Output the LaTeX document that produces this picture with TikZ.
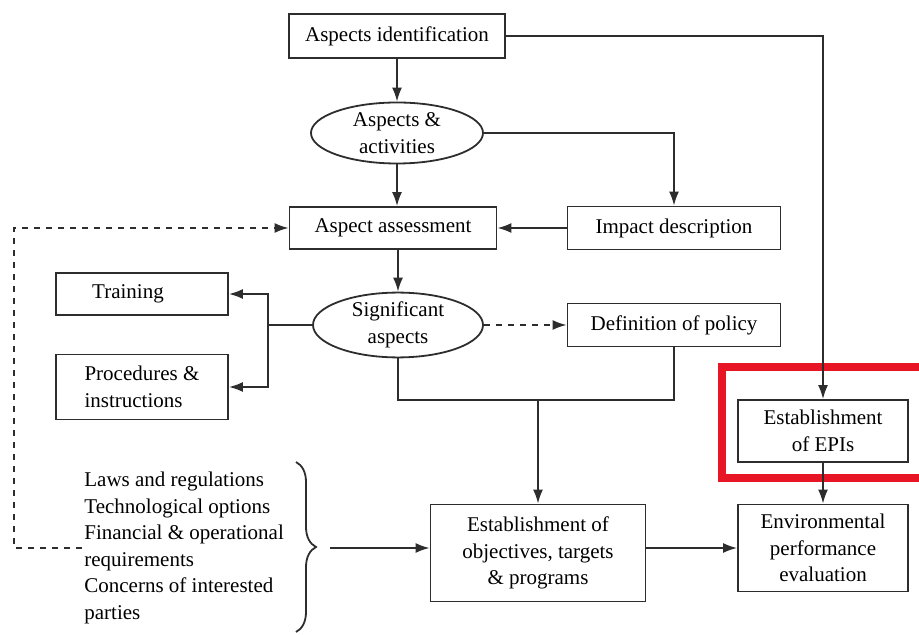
\documentclass[tikz,border=0pt]{standalone}
\usepackage{fontspec}
\setmainfont{Liberation Serif}
\newfontfamily\boxfont{Liberation Serif}
\usetikzlibrary{positioning}
\usetikzlibrary{arrows.meta}
\usetikzlibrary{shapes.geometric}
\usetikzlibrary{decorations.pathreplacing}

\definecolor{linegray}{RGB}{45,45,45}
\definecolor{markred}{RGB}{232,22,36}

\tikzset{
  every node/.style={font=\boxfont\fontsize{10.5}{13.3}\selectfont},
  box/.style={draw=linegray, line width=0.9pt, align=center, inner sep=2pt},
  oval/.style={draw=linegray, line width=0.9pt, ellipse, align=center, inner sep=0pt},
  flow/.style={draw=linegray, line width=0.9pt, -{Latex[length=7pt,width=5pt]}},
  plain/.style={draw=linegray, line width=0.9pt},
}

\begin{document}
\begin{tikzpicture}[x=0.5pt, y=-0.5pt]
  \useasboundingbox (0,0) rectangle (919,635);

  % Top of the chain
  \node[box, minimum width=108pt, minimum height=22pt] (ident) at (397,36) {Aspects identification};
  \node[oval, minimum width=86pt, minimum height=30.5pt] (activ) at (397,133) {Aspects \&\\activities};
  \node[box, minimum width=103.5pt, minimum height=21pt] (assess) at (393,228) {Aspect assessment};
  \node[box, minimum width=106.5pt, minimum height=21.5pt] (impact) at (674,228) {Impact description};
  \node[oval, minimum width=85pt, minimum height=30pt] (signif) at (398,325) {Significant\\aspects};

  % Left side
  \node[box, minimum width=86pt, minimum height=21pt] (training) at (142,294) {Training\hspace{14pt}};
  \node[box, minimum width=86pt, minimum height=32.5pt, align=left] (proced) at (142,387) {Procedures \&\\instructions\hspace{14pt}};
  \node[align=left, anchor=west, inner sep=0pt] (inputs) at (84,548)
    {Laws and regulations\\Technological options\\Financial \& operational\\requirements\\Concerns of interested\\parties};

  % Right side
  \node[box, minimum width=106.5pt, minimum height=21.5pt] (policy) at (674,325) {Definition of policy};
  \node[box, minimum width=107.5pt, minimum height=48.5pt] (objectives) at (538,553) {Establishment of\\objectives, targets\\\& programs};
  \node[box, minimum width=85pt, minimum height=31pt] (epi) at (823,431) {Establishment\\of EPIs};
  \node[box, minimum width=85pt, minimum height=43.5pt] (envperf) at (823,548) {Environmental\\performance\\evaluation};

  % Highlight
  \draw[markred, line width=4pt] (722,367) rectangle (930,478);

  % Main flow
  \draw[flow] (ident.south) -- (activ.north);
  \draw[flow] (activ.south) -- (activ.south |- assess.north);
  \draw[flow] (activ.east) -| (impact.north);
  \draw[flow] (impact.west) -- (assess.east);
  \draw[flow] (ident.east) -| (epi.north);
  \draw[flow] (signif.north |- assess.south) -- (signif.north);

  % Fork to the left
  \coordinate (fork) at (268,325);
  \draw[plain] (signif.west) -- (fork);
  \draw[flow] (fork) |- (training.east);
  \draw[flow] (fork) |- (proced.east);

  % Policy and objectives
  \draw[flow, dashed] (signif.east) -- (policy.west);
  \coordinate (join) at (538,400);
  \draw[plain] (signif.south) |- (join) -| (policy.south);
  \draw[flow] (join) -- (objectives.north);
  \draw[flow] (epi.south) -- (envperf.north);
  \draw[flow] (envperf.west -| objectives.east) -- (envperf.west);

  % Inputs
  \draw[plain, decorate, decoration={brace, amplitude=10pt}] (296,462) -- (296,632);
  \coordinate (bracetip) at (330,548);
  \draw[flow] (bracetip) -- (bracetip -| objectives.west);
  \coordinate (dstart) at (82,548);
  \coordinate (dcorner) at (14,548);
  \draw[flow, dashed] (dstart) -- (dcorner) |- (assess.west);
\end{tikzpicture}
\end{document}
